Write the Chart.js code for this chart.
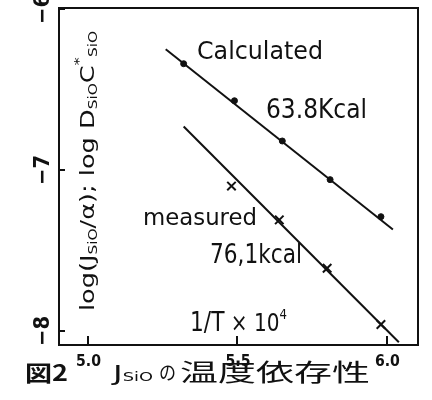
<!DOCTYPE html>
<html>
<head>
<meta charset="utf-8">
<script src="https://cdn.jsdelivr.net/npm/chart.js@4/dist/chart.umd.min.js"></script>
<style>
  html, body { margin: 0; padding: 0; background: #fff; }
  #wrap { width: 432px; height: 400px; }
</style>
</head>
<body>
<div id="wrap"><canvas id="chart" width="432" height="400"></canvas></div>
<script>
// values (x = 1/T x 10^4, y = log)
const calcX = [5.32, 5.49, 5.65, 5.81, 5.98];
const calcY = [-6.34, -6.57, -6.82, -7.06, -7.29];
const measX = [5.48, 5.64, 5.80, 5.98];
const measY = [-7.10, -7.31, -7.61, -7.96];
const calcFitX = [5.26, 6.02];
const calcFitY = [-6.25, -7.37];
const measFitX = [5.32, 6.04];
const measFitY = [-6.73, -8.07];
const xTicks = [5.0, 5.5, 6.0];
const yTicks = [-6, -7, -8];

const INK = "#111";
const FONT = "'DejaVu Sans', sans-serif";
const CJK = "'Noto Sans CJK JP', sans-serif";

function pts(xs, ys) {
  return xs.map((x, i) => ({ x, y: ys[i] }));
}

function fitText(ctx, text, x, y, w, font) {
  ctx.font = font;
  const m = ctx.measureText(text).width;
  ctx.save();
  ctx.translate(x, y);
  ctx.scale(w / m, 1);
  ctx.fillText(text, 0, 0);
  ctx.restore();
}

// pieces of rich text: [text, size, dy]
function richWidth(ctx, parts, family) {
  let w = 0;
  parts.forEach((p) => { ctx.font = `${p[1]}px ${family}`; w += ctx.measureText(p[0]).width; });
  return w;
}

function drawRich(ctx, parts, family, x, y, w) {
  const total = richWidth(ctx, parts, family);
  ctx.save();
  ctx.translate(x, y);
  ctx.scale(w / total, 1);
  let cx = 0;
  parts.forEach((p) => {
    ctx.font = `${p[1]}px ${family}`;
    ctx.fillText(p[0], cx, p[2]);
    cx += ctx.measureText(p[0]).width;
  });
  ctx.restore();
}

const sketch = {
  id: "sketch",
  afterDraw(chart) {
    const { ctx, chartArea: a, scales } = chart;
    const xs = scales.x, ys = scales.y;
    ctx.save();
    ctx.strokeStyle = INK;
    ctx.fillStyle = INK;
    ctx.lineWidth = 2;
    ctx.strokeRect(a.left, a.top, a.right - a.left, a.bottom - a.top);

    // inward ticks
    ctx.beginPath();
    xTicks.forEach((v) => {
      const px = Math.round(xs.getPixelForValue(v));
      ctx.moveTo(px, a.bottom);
      ctx.lineTo(px, a.bottom - 9);
    });
    yTicks.forEach((v) => {
      const py = Math.round(ys.getPixelForValue(v));
      ctx.moveTo(a.left, py);
      ctx.lineTo(a.left + 6, py);
    });
    ctx.stroke();

    // x tick labels
    ctx.textBaseline = "middle";
    ctx.textAlign = "left";
    xTicks.forEach((v) => {
      const px = xs.getPixelForValue(v);
      fitText(ctx, v.toFixed(1), px - 12, 362, 25, `bold 15px ${FONT}`);
    });

    // y tick labels, rotated
    yTicks.forEach((v) => {
      const py = ys.getPixelForValue(v);
      ctx.save();
      ctx.translate(43, py + 15);
      ctx.rotate(-Math.PI / 2);
      fitText(ctx, "\u2212" + Math.abs(v), 0, 0, 30, `bold 22px ${FONT}`);
      ctx.restore();
    });

    // y title inside the plot
    ctx.save();
    ctx.translate(89, 311);
    ctx.rotate(-Math.PI / 2);
    drawRich(ctx, [
      ["log(J", 20, 0], ["SiO", 12, 5], ["/\u03b1); log D", 20, 0],
      ["SiO", 12, 5], ["C", 20, 0], ["*", 13, -9], ["SiO", 12, 5]
    ], FONT, 0, 0, 280);
    ctx.restore();

    // annotations
    ctx.textBaseline = "alphabetic";
    fitText(ctx, "Calculated", 197, 59, 126, `24px ${FONT}`);
    fitText(ctx, "63.8Kcal", 266, 118, 101, `27px ${FONT}`);
    fitText(ctx, "measured", 143, 225, 114, `23px ${FONT}`);
    fitText(ctx, "76,1kcal", 210, 263, 92, `26px ${FONT}`);
    drawRich(ctx, [["1/T", 26, 0], [" \u00d7 10", 24, 0], ["4", 14, -12]], FONT, 190, 331, 97);

    // caption
    fitText(ctx, "図2", 25, 381, 43, `bold 22px ${CJK}`);
    drawRich(ctx, [["J", 22, 0], ["SiO", 12, 0]], FONT, 113, 381, 40);
    fitText(ctx, "の", 159, 380, 17, `19px ${CJK}`);
    fitText(ctx, "温度依存性", 180, 381, 190, `24px ${CJK}`);
    ctx.restore();
  }
};

new Chart(document.getElementById("chart"), {
  type: "scatter",
  data: {
    datasets: [
      {
        label: "Calculated",
        data: pts(calcX, calcY),
        pointStyle: "circle",
        pointRadius: 3,
        pointBackgroundColor: INK,
        pointBorderColor: INK,
        showLine: false
      },
      {
        label: "Calculated fit",
        data: pts(calcFitX, calcFitY),
        showLine: true,
        pointRadius: 0,
        borderColor: INK,
        borderWidth: 2
      },
      {
        label: "measured",
        data: pts(measX, measY),
        pointStyle: "crossRot",
        pointRadius: 6,
        pointBorderWidth: 2,
        pointBorderColor: INK,
        showLine: false
      },
      {
        label: "measured fit",
        data: pts(measFitX, measFitY),
        showLine: true,
        pointRadius: 0,
        borderColor: INK,
        borderWidth: 2
      }
    ]
  },
  options: {
    responsive: false,
    animation: false,
    layout: { padding: { left: 59, right: 14, top: 8, bottom: 55 } },
    plugins: { legend: { display: false }, tooltip: { enabled: false } },
    scales: {
      x: { type: "linear", min: 4.903, max: 6.104, display: false },
      y: { type: "linear", min: -8.087, max: -5.994, display: false }
    }
  },
  plugins: [sketch]
});
</script>
</body>
</html>
